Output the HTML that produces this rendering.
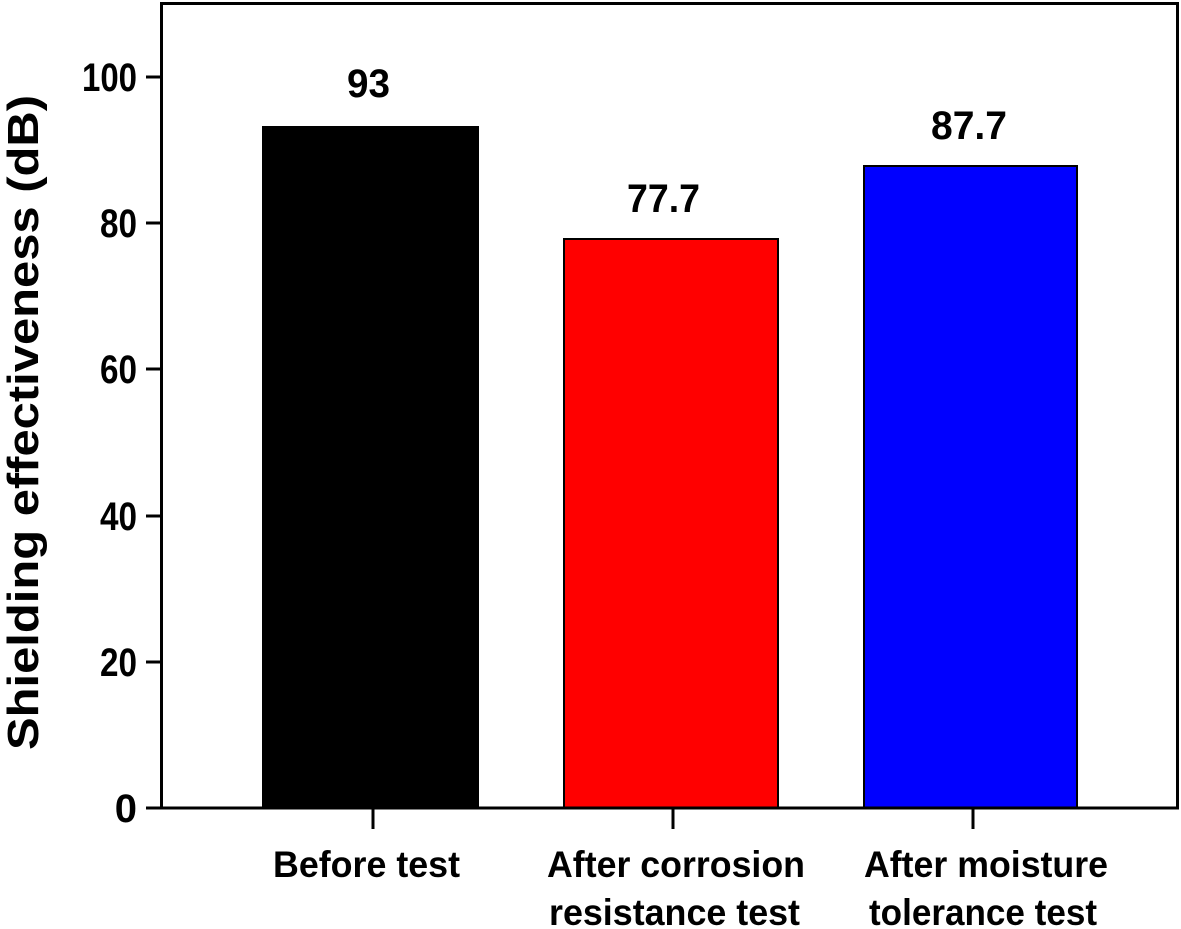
<!DOCTYPE html>
<html><head><style>body{margin:0;background:#fff}svg{display:block}</style></head><body>
<svg width="1181" height="929" viewBox="0 0 1181 929" xmlns="http://www.w3.org/2000/svg" font-family="Liberation Sans, Arial, sans-serif" font-weight="bold">
<rect x="263" y="127" width="215" height="681" fill="#000" stroke="#000" stroke-width="2"/>
<rect x="564" y="239" width="214" height="569" fill="#ff0000" stroke="#000" stroke-width="2"/>
<rect x="864" y="166" width="213" height="642" fill="#0000ff" stroke="#000" stroke-width="2"/>
<rect x="161.5" y="3.5" width="1016" height="804.5" fill="none" stroke="#000" stroke-width="3"/>
<g stroke="#000" stroke-width="3">
<line x1="146" y1="808" x2="161" y2="808"/><line x1="146" y1="662" x2="161" y2="662"/>
<line x1="146" y1="516" x2="161" y2="516"/><line x1="146" y1="369" x2="161" y2="369"/>
<line x1="146" y1="223" x2="161" y2="223"/><line x1="146" y1="77" x2="161" y2="77"/>
<line x1="373" y1="808" x2="373" y2="829"/><line x1="673" y1="808" x2="673" y2="829"/><line x1="973" y1="808" x2="973" y2="829"/>
</g>
<g font-size="40" text-anchor="end">
<text x="137" y="822">0</text><text x="137" y="676" textLength="37" lengthAdjust="spacingAndGlyphs">20</text><text x="137" y="530" textLength="37" lengthAdjust="spacingAndGlyphs">40</text>
<text x="137" y="383" textLength="37" lengthAdjust="spacingAndGlyphs">60</text><text x="137" y="237" textLength="37" lengthAdjust="spacingAndGlyphs">80</text><text x="137" y="91" textLength="55" lengthAdjust="spacingAndGlyphs">100</text>
</g>
<g font-size="40">
<text x="347" y="97" textLength="43" lengthAdjust="spacingAndGlyphs">93</text>
<text x="627" y="212" textLength="73" lengthAdjust="spacingAndGlyphs">77.7</text>
<text x="931" y="139" textLength="76" lengthAdjust="spacingAndGlyphs">87.7</text>
</g>
<g font-size="37">
<text x="273" y="877" textLength="187" lengthAdjust="spacingAndGlyphs">Before test</text>
<text x="547" y="877" textLength="258" lengthAdjust="spacingAndGlyphs">After corrosion</text>
<text x="549" y="925" textLength="251" lengthAdjust="spacingAndGlyphs">resistance test</text>
<text x="864" y="877" textLength="244" lengthAdjust="spacingAndGlyphs">After moisture</text>
<text x="869" y="925" textLength="228" lengthAdjust="spacingAndGlyphs">tolerance test</text>
</g>
<text transform="translate(38,750) rotate(-90)" font-size="44" textLength="655" lengthAdjust="spacingAndGlyphs">Shielding effectiveness (dB)</text>
</svg>
</body></html>
